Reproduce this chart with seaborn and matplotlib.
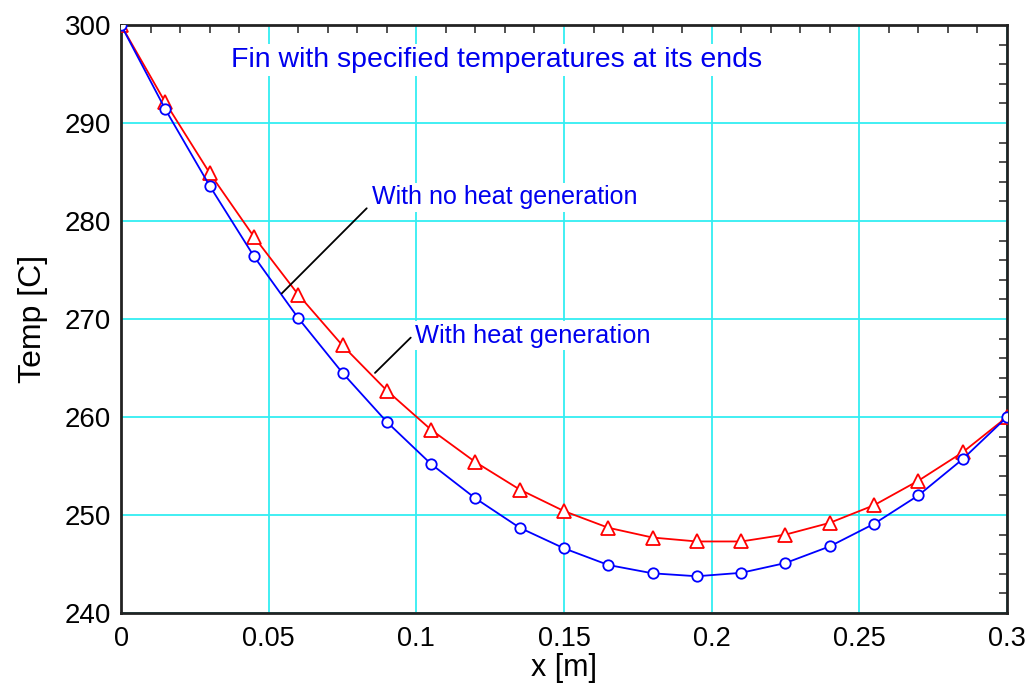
import matplotlib
matplotlib.use("Agg")
import matplotlib.pyplot as plt
from matplotlib.ticker import MultipleLocator, FixedLocator
import pandas as pd
import seaborn as sns

# Fin temperature profile samples
x_m = [0.0, 0.015, 0.03, 0.045, 0.06, 0.075, 0.09, 0.105, 0.12, 0.135, 0.15,
       0.165, 0.18, 0.195, 0.21, 0.225, 0.24, 0.255, 0.27, 0.285, 0.3]
temp_heat_gen = [300.0, 292.1, 284.9, 278.4, 272.5, 267.3, 262.7, 258.7, 255.4,
                 252.6, 250.4, 248.7, 247.7, 247.3, 247.3, 248.0, 249.2, 251.0,
                 253.5, 256.4, 260.0]
temp_no_gen = [300.0, 291.4, 283.6, 276.4, 270.1, 264.5, 259.5, 255.2, 251.7,
               248.7, 246.6, 244.9, 244.05, 243.75, 244.1, 245.1, 246.8, 249.1,
               252.0, 255.7, 260.0]

x_ticks = [0, 0.05, 0.1, 0.15, 0.2, 0.25, 0.3]
x_tick_labels = ["0", "0.05", "0.1", "0.15", "0.2", "0.25", "0.3"]
y_ticks = [240, 250, 260, 270, 280, 290, 300]

sns.set_style("white")
plt.rcParams["font.family"] = ["Liberation Sans", "DejaVu Sans"]
for key in ("text.color", "axes.labelcolor", "xtick.color", "ytick.color"):
    plt.rcParams[key] = "black"

df = pd.DataFrame({
    "x": x_m * 2,
    "T": temp_heat_gen + temp_no_gen,
    "case": ["gen"] * len(x_m) + ["nogen"] * len(x_m),
})

fig = plt.figure(figsize=(10.29, 6.89), dpi=100)
ax = fig.add_axes([0.1176, 0.1103, 0.8610, 0.8534])

sns.lineplot(data=df[df.case == "gen"], x="x", y="T", ax=ax, color="#ff0000",
             marker="^", markersize=9.5, markerfacecolor="white",
             markeredgecolor="#ff0000", markeredgewidth=1.3, linewidth=1.3,
             zorder=4, legend=False)
sns.lineplot(data=df[df.case == "nogen"], x="x", y="T", ax=ax, color="#0000ff",
             marker="o", markersize=7.5, markerfacecolor="white",
             markeredgecolor="#0000ff", markeredgewidth=1.3, linewidth=1.3,
             zorder=4, legend=False)

ax.set_xlim(0, 0.3)
ax.set_ylim(240, 300)
ax.xaxis.set_major_locator(FixedLocator(x_ticks))
ax.set_xticklabels(x_tick_labels, fontsize=19.5)
ax.yaxis.set_major_locator(FixedLocator(y_ticks))
ax.set_yticklabels([str(v) for v in y_ticks], fontsize=20)
ax.xaxis.set_minor_locator(MultipleLocator(0.01))
ax.yaxis.set_minor_locator(MultipleLocator(2))
ax.tick_params(which="minor", direction="in", top=True, right=True,
               length=6, width=1.2, color="#333333")
ax.tick_params(which="major", length=0)
ax.tick_params(axis="x", which="major", pad=9)
ax.tick_params(axis="y", which="major", pad=7)
for s in ax.spines.values():
    s.set_linewidth(2)
    s.set_color("#222222")

ax.grid(True, which="major", color="#33eef2", linewidth=1.3)
ax.set_axisbelow(True)

ax.set_xlabel("x [m]", fontsize=22, labelpad=1)
ax.set_ylabel("Temp [C]", fontsize=23, labelpad=12)

blue = "#0000ee"
ax.text(0.1273, 296.4, "Fin with specified temperatures at its ends",
        color=blue, fontsize=20.5, ha="center", va="center", zorder=3,
        bbox=dict(facecolor="white", edgecolor="none", pad=2))
ax.text(0.085, 282.4, "With no heat generation", color=blue, fontsize=18,
        ha="left", va="center", zorder=3,
        bbox=dict(facecolor="white", edgecolor="none", pad=2))
ax.text(0.0996, 268.3, "With heat generation", color=blue, fontsize=18.3,
        ha="left", va="center", zorder=3,
        bbox=dict(facecolor="white", edgecolor="none", pad=2))
ax.plot([0.0832, 0.0544], [281.3, 272.6], color="black", linewidth=1.3, zorder=5)
ax.plot([0.0981, 0.0860], [268.1, 264.5], color="black", linewidth=1.3, zorder=5)

fig.savefig("out.png", dpi=100)
